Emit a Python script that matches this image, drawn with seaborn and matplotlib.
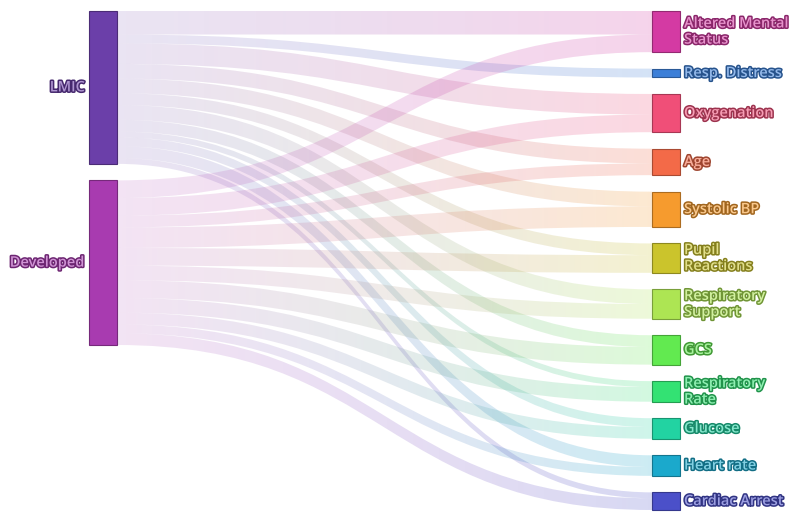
import numpy as np
import pandas as pd
import seaborn as sns
import matplotlib
matplotlib.use("Agg")
import matplotlib.pyplot as plt
from matplotlib.path import Path
from matplotlib.patches import PathPatch, Rectangle
from matplotlib.colors import to_rgb
import matplotlib.patheffects as pe

# Sankey data: region -> predictor variable
sources = ["LMIC", "Developed"]
targets = ["Altered Mental\nStatus", "Resp. Distress", "Oxygenation", "Age", "Systolic BP",
           "Pupil\nReactions", "Respiratory\nSupport", "GCS", "Respiratory\nRate",
           "Glucose", "Heart rate", "Cardiac Arrest"]
lmic_vals = [8, 3, 7, 5, 5, 4, 5, 4, 2, 3, 4, 2]
developed_vals = [6, 0, 6, 4, 7, 6, 5, 6, 5, 4, 3, 4]

source_colors = ["#6b3fa9", "#a83bb0"]
target_colors = ["#d43aa3", "#3c7fd8", "#f04f78", "#f36a48", "#f69b2e", "#cbc42c",
                 "#ade553", "#62ea50", "#33e273", "#22d3a2", "#1ba9cc", "#4b50c9"]

links = pd.DataFrame({
    "source": np.repeat(sources, len(targets)),
    "target": targets * 2,
    "value": lmic_vals + developed_vals,
})

sns.set_theme(style="white")
plt.rcParams["font.family"] = ["Open Sans", "DejaVu Sans"]

fig = plt.figure(figsize=(7.95, 5.17), dpi=100)
ax = fig.add_axes([0, 0, 1, 1])

# layout (pixel space)
top, bottom = 11, 510
pad = 16.5
node_w = 28
x_left, x_right = 89, 652
total = links["value"].sum()
scale = (bottom - top - pad * (len(targets) - 1)) / total

src_tot = links.groupby("source", sort=False)["value"].sum()
tgt_tot = links.groupby("target", sort=False)["value"].sum()

src_y = {}
y = top
for s in sources:
    src_y[s] = y
    y += src_tot[s] * scale + pad
tgt_y = {}
y = top
for t in targets:
    tgt_y[t] = y
    y += tgt_tot[t] * scale + pad


def darker(c, f=0.6):
    r, g, b = to_rgb(c)
    return (r * f, g * f, b * f)


def lighter(c, f=0.85):
    r, g, b = to_rgb(c)
    return (r + (1 - r) * f, g + (1 - g) * f, b + (1 - b) * f)


# links with colour gradient from source to target
src_off = dict(src_y)
tgt_off = dict(tgt_y)
x0, x1 = x_left + node_w, x_right
xm = (x0 + x1) / 2
for si, s in enumerate(sources):
    for ti, t in enumerate(targets):
        v = links[(links.source == s) & (links.target == t)]["value"].iloc[0]
        if v == 0:
            continue
        h = v * scale
        ys = src_off[s]
        yt = tgt_off[t]
        src_off[s] += h
        tgt_off[t] += h
        verts = [(x0, ys), (xm, ys), (xm, yt), (x1, yt),
                 (x1, yt + h), (xm, yt + h), (xm, ys + h), (x0, ys + h), (x0, ys)]
        codes = [Path.MOVETO, Path.CURVE4, Path.CURVE4, Path.CURVE4,
                 Path.LINETO, Path.CURVE4, Path.CURVE4, Path.CURVE4, Path.CLOSEPOLY]
        patch = PathPatch(Path(verts, codes), facecolor="none", edgecolor="none")
        ax.add_patch(patch)
        c0 = np.array(to_rgb(source_colors[si]))
        c1 = np.array(to_rgb(target_colors[ti]))
        frac = np.linspace(0, 1, 256)[:, None]
        rgb = c0 * (1 - frac) + c1 * frac
        alpha = 0.14 + 0.08 * frac
        img = np.concatenate([rgb, alpha], axis=1)[None, :, :]
        im = ax.imshow(img, extent=[x0, x1, 517, 0], aspect="auto",
                       interpolation="bilinear", zorder=1)
        im.set_clip_path(patch)

ax.set_xlim(0, 795)
ax.set_ylim(517, 0)
ax.axis("off")


def label(x, yc, text, color, ha):
    txt = ax.text(x, yc, text, ha=ha, va="center", fontsize=10.5, fontweight="semibold",
                  color=lighter(color, 0.45), linespacing=1.2, zorder=4)
    txt.set_path_effects([pe.Stroke(linewidth=2.2, foreground=darker(color, 0.65)), pe.Normal()])


# nodes
for si, s in enumerate(sources):
    h = src_tot[s] * scale
    ax.add_patch(Rectangle((x_left, src_y[s]), node_w, h, facecolor=source_colors[si],
                           edgecolor=darker(source_colors[si], 0.7), linewidth=0.8, zorder=3))
    label(x_left - 4, src_y[s] + h / 2, s, source_colors[si], "right")
for ti, t in enumerate(targets):
    h = tgt_tot[t] * scale
    ax.add_patch(Rectangle((x_right, tgt_y[t]), node_w, h, facecolor=target_colors[ti],
                           edgecolor=darker(target_colors[ti], 0.7), linewidth=0.8, zorder=3))
    label(x_right + node_w + 4, tgt_y[t] + h / 2, t, target_colors[ti], "left")

fig.savefig("out.png", dpi=100, facecolor="white")
